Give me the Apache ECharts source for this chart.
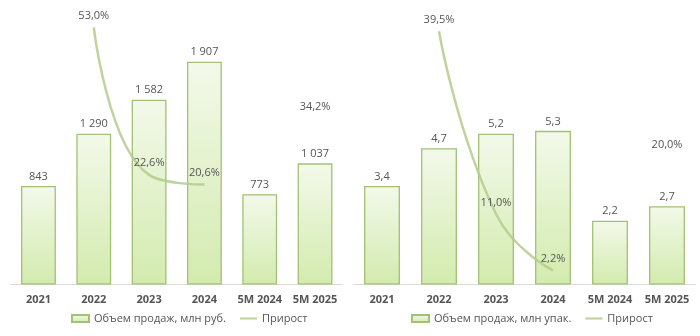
<!DOCTYPE html>
<html><head><meta charset="utf-8">
<script src="https://cdn.jsdelivr.net/npm/echarts@6/dist/echarts.min.js"></script>
<style>html,body{margin:0;padding:0;background:#fff}#c{width:700px;height:336px}</style>
</head><body><div id="c"></div>
<script>
var categories = ['2021','2022','2023','2024','5M 2024','5M 2025'];
var salesRub = [843, 1290, 1582, 1907, 773, 1037];
var growthRub = [null, 53.0, 22.6, 20.6, null, 34.2];
var salesPack = [3.4, 4.7, 5.2, 5.3, 2.2, 2.7];
var growthPack = [null, 39.5, 11.0, 2.2, null, 20.0];
var nameRub = 'Объем продаж, млн руб.';
var namePack = 'Объем продаж, млн упак.';
var nameGrowth = 'Прирост';

var txt = '#555555';
var font = 'Open Sans';
function fmtNum(v){ return String(v).replace(/\B(?=(\d{3})+(?!\d))/g, ' '); }
function fmtDec(v){ return v.toFixed(1).replace('.', ','); }
var barStyle = {
  color: new echarts.graphic.LinearGradient(0,0,0,1,[{offset:0,color:'#f3f9ea'},{offset:1,color:'#d3ebae'}]),
  borderColor: '#a2c175', borderWidth: 1.3
};
var lineColor = 'rgba(180,203,140,0.85)';
function barSeries(name, data, idx, fmt){
  return {type:'bar', name:name, data:data, xAxisIndex:idx, yAxisIndex:idx*2,
    barWidth:'63%', itemStyle:barStyle,
    label:{show:true, position:'top', distance:4, color:txt, fontFamily:font, fontSize:11,
      formatter:function(p){return fmt(p.value);}}};
}
function lineSeries(data, idx){
  return {type:'line', name:nameGrowth, data:data, xAxisIndex:idx, yAxisIndex:idx*2+1,
    smooth:0.5, showSymbol:true, symbol:'circle', symbolSize:0.1,
    itemStyle:{color:lineColor},
    lineStyle:{color:lineColor, width:2.5},
    label:{show:true, position:'top', distance:6, color:txt, fontFamily:font, fontSize:11,
      formatter:function(p){return fmtDec(p.value)+'%';}}};
}
function xAx(idx){
  return {type:'category', gridIndex:idx, data:categories,
    axisLine:{lineStyle:{color:'#d9d9d9', width:1}}, axisTick:{show:false},
    axisLabel:{interval:0, color:txt, fontFamily:font, fontSize:11, fontWeight:'bold', margin:10}};
}
function yAx(idx, max){
  return {type:'value', gridIndex:idx, min:0, max:max, show:false, splitLine:{show:false}};
}
var lineIcon = 'path://M0,0 L16,0 L16,2 L0,2 Z';
var chart = echarts.init(document.getElementById('c'), null, {renderer:'canvas'});
chart.setOption({
  animation:false,
  grid:[
    {left:10.8, right:357.3, top:10, bottom:51.5},
    {left:353.5, right:4.5, top:10, bottom:51.5}
  ],
  xAxis:[xAx(0), xAx(1)],
  yAxis:[yAx(0,2350), yAx(0,56.6), yAx(1,9.47), yAx(1,42.8)],
  legend:[
    {left:66, top:308, itemWidth:17, itemHeight:7, itemGap:14, icon:'rect',
     textStyle:{color:txt, fontFamily:font, fontSize:11},
     data:[{name:nameRub},{name:nameGrowth, icon:lineIcon}]},
    {left:406, top:308, itemWidth:17, itemHeight:7, itemGap:14, icon:'rect',
     textStyle:{color:txt, fontFamily:font, fontSize:11},
     data:[{name:namePack},{name:nameGrowth, icon:lineIcon}]}
  ],
  series:[
    barSeries(nameRub, salesRub, 0, fmtNum),
    lineSeries(growthRub, 0),
    barSeries(namePack, salesPack, 1, fmtDec),
    lineSeries(growthPack, 1)
  ]
});
</script></body></html>
